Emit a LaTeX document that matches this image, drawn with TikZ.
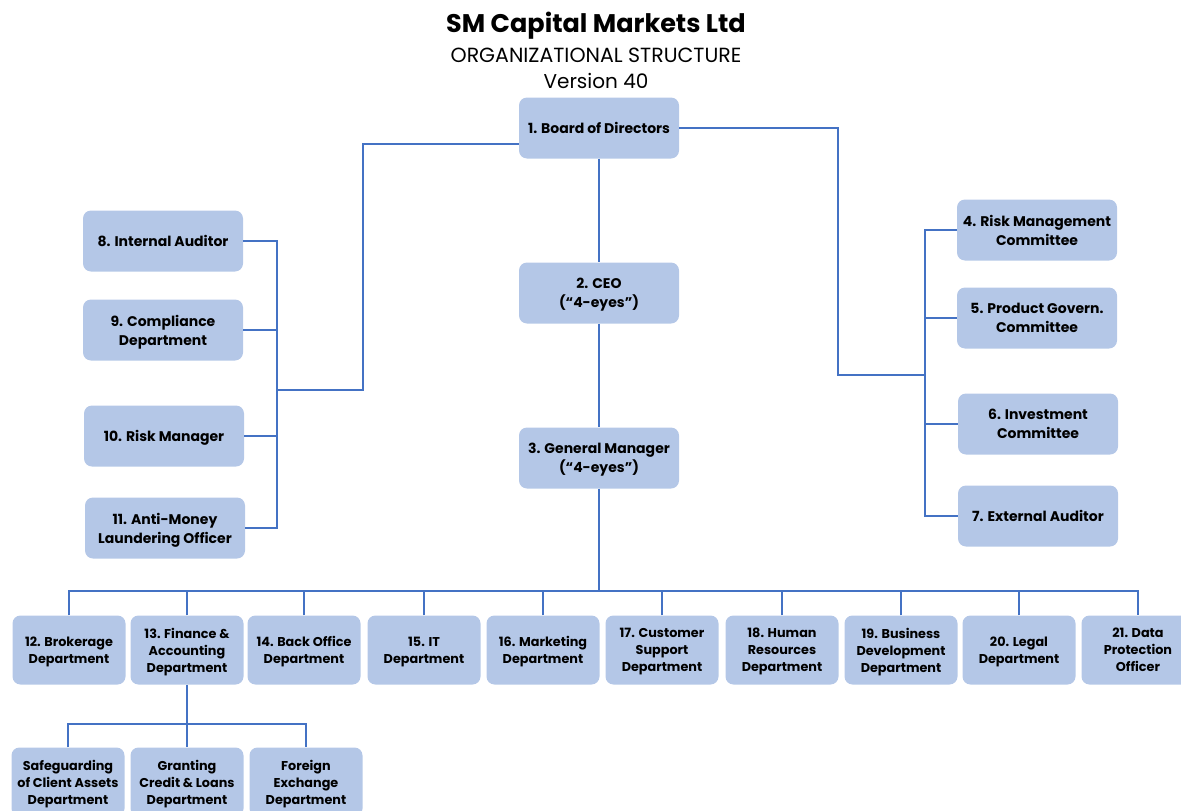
\documentclass[tikz,border=0pt]{standalone}
\usepackage{fontspec}
\setmainfont{Poppins}
\definecolor{boxfill}{RGB}{180,199,231}
\definecolor{linkblue}{RGB}{68,114,196}
\tikzset{
  unit/.style = {fill=boxfill, rounded corners=8pt, minimum width=160pt, minimum height=61pt,
    align=center, inner sep=1pt, text depth=-2.5pt, font=\bfseries\fontsize{14}{19}\selectfont},
  dept/.style = {unit, minimum width=113pt, minimum height=69pt, font=\bfseries\fontsize{12.8}{17}\selectfont},
  link/.style = {draw=linkblue, line width=1.3pt}
}
\begin{document}
\begin{tikzpicture}[x=1pt, y=-1pt]
  \useasboundingbox (0,0) rectangle (1181,811);
  % heading
  \node (title) at (596,26) {\fontsize{25.5}{28}\selectfont\bfseries SM Capital Markets Ltd};
  \node (subtitle) at (596,55) {\fontsize{20.5}{22}\selectfont ORGANIZATIONAL STRUCTURE};
  \node (version) at (596,81) {\fontsize{20}{22}\selectfont Version 40};
  % top line
  \node [unit] (board) at (599,128) {1. Board of Directors};
  \node [unit] (ceo) at (599,293) {2. CEO\\(“4-eyes”)};
  \node [unit] (gm) at (599,458) {3. General Manager\\(“4-eyes”)};
  % left side
  \node [unit] (audit) at (163,241) {8. Internal Auditor};
  \node [unit] (comp) at (163,330) {9. Compliance\\Department};
  \node [unit] (riskmgr) at (164,436) {10. Risk Manager};
  \node [unit] (aml) at (165,528) {11. Anti-Money\\Laundering Officer};
  % right side
  \node [unit] (rmc) at (1037,230) {4. Risk Management\\Committee};
  \node [unit] (pgc) at (1037,318) {5. Product Govern.\\Committee};
  \node [unit] (inv) at (1038,424) {6. Investment\\Committee};
  \node [unit] (ext) at (1038,516) {7. External Auditor};
  % departments
  \node [dept] (d12) at (69,650) {12. Brokerage\\Department};
  \node [dept] (d13) at (187,650) {13. Finance \&\\Accounting\\Department};
  \node [dept] (d14) at (304,650) {14. Back Office\\Department};
  \node [dept] (d15) at (424,650) {15. IT\\Department};
  \node [dept] (d16) at (543,650) {16. Marketing\\Department};
  \node [dept] (d17) at (662,650) {17. Customer\\Support\\Department};
  \node [dept] (d18) at (782,650) {18. Human\\Resources\\Department};
  \node [dept] (d19) at (901,650) {19. Business\\Development\\Department};
  \node [dept] (d20) at (1019,650) {20. Legal\\Department};
  \node [dept] (d21) at (1138,650) {21. Data\\Protection\\Officer};
  \node [dept] (s1) at (68,782) {Safeguarding\\of Client Assets\\Department};
  \node [dept] (s2) at (187,782) {Granting\\Credit \& Loans\\Department};
  \node [dept] (s3) at (306,782) {Foreign\\Exchange\\Department};
  % connectors
  \coordinate (lbus) at (277,390);
  \coordinate (lturn) at (363,390);
  \coordinate (rturn) at (838,375);
  \coordinate (rbus) at (925,375);
  \coordinate (dbus) at (599,591);
  \coordinate (sbus) at (187,724);
  \draw [link] (board) -- (ceo);
  \draw [link] (ceo) -- (gm);
  \draw [link] ([yshift=-16pt]board.west) -| (lturn) -- (lbus);
  \draw [link] (audit.east) -| (lbus) |- (aml.east);
  \draw [link] (comp.east) -- (comp.east -| lbus);
  \draw [link] (riskmgr.east) -- (riskmgr.east -| lbus);
  \draw [link] (board.east) -| (rturn) -- (rbus);
  \draw [link] (rmc.west) -| (rbus) |- (ext.west);
  \draw [link] (pgc.west) -- (pgc.west -| rbus);
  \draw [link] (inv.west) -- (inv.west -| rbus);
  \draw [link] (gm) -- (dbus);
  \draw [link] (d12) |- (dbus) -| (d21);
  \foreach \d in {d13,d14,d15,d16,d17,d18,d19,d20}
    \draw [link] (\d) -- (\d |- dbus);
  \draw [link] (d13) -- (s2);
  \draw [link] (s1) |- (sbus) -| (s3);
\end{tikzpicture}
\end{document}
